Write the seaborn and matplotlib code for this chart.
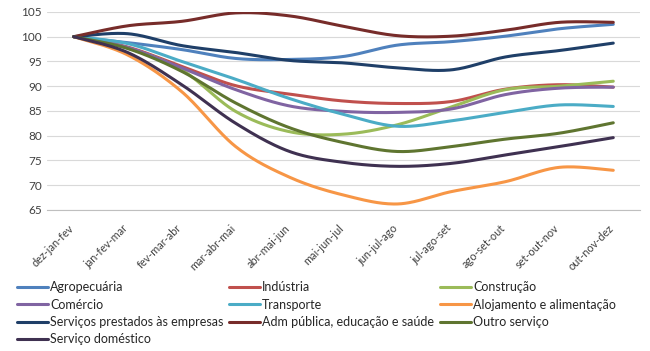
import numpy as np
import pandas as pd
import seaborn as sns
import matplotlib.pyplot as plt
import matplotlib.transforms as mtransforms

periods = ['dez-jan-fev', 'jan-fev-mar', 'fev-mar-abr', 'mar-abr-mai', 'abr-mai-jun',
           'mai-jun-jul', 'jun-jul-ago', 'jul-ago-set', 'ago-set-out', 'set-out-nov', 'out-nov-dez']

agropecuaria = [100, 98.8, 97.4, 95.6, 95.4, 96.0, 98.3, 99.0, 100.1, 101.6, 102.5]
industria = [100, 97.9, 94.0, 90.1, 88.4, 87.0, 86.5, 86.9, 89.4, 90.3, 89.8]
construcao = [100, 97.7, 93.3, 84.9, 80.8, 80.3, 82.2, 85.8, 89.3, 90.0, 91.0]
comercio = [100, 97.8, 93.7, 89.3, 86.0, 84.9, 84.7, 85.4, 88.3, 89.6, 89.8]
transporte = [100, 98.6, 95.0, 91.4, 87.5, 84.3, 81.9, 83.0, 84.7, 86.2, 85.9]
alojamento = [100, 96.3, 88.9, 77.8, 71.6, 68.0, 66.2, 68.7, 70.7, 73.6, 73.0]
servicos_empresas = [100, 100.6, 98.2, 96.8, 95.2, 94.7, 93.7, 93.3, 95.9, 97.2, 98.7]
adm_publica = [100, 102.2, 103.1, 104.8, 104.2, 102.1, 100.2, 100.1, 101.3, 102.9, 102.9]
outro_servico = [100, 97.6, 93.0, 86.6, 81.6, 78.6, 76.8, 77.8, 79.3, 80.5, 82.6]
servico_domestico = [100, 96.8, 90.3, 82.5, 76.8, 74.6, 73.8, 74.4, 76.1, 77.8, 79.6]

series = {
    'Agropecuária': agropecuaria,
    'Indústria': industria,
    'Construção': construcao,
    'Comércio': comercio,
    'Transporte': transporte,
    'Alojamento e alimentação': alojamento,
    'Serviços prestados às empresas': servicos_empresas,
    'Adm pública, educação e saúde': adm_publica,
    'Outro serviço': outro_servico,
    'Serviço doméstico': servico_domestico,
}
colors = ['#4F81BD', '#C0504D', '#9BBB59', '#8064A2', '#4BACC6', '#F79646',
          '#1F3F68', '#772C2A', '#5F7530', '#3F3151']


def smooth(y, n=30):
    # excel-like smoothed line: bezier segments with catmull-rom control points
    y = np.asarray(y, dtype=float)
    x = np.arange(len(y), dtype=float)
    xs, ys = [], []
    for i in range(len(y) - 1):
        i0, i3 = max(i - 1, 0), min(i + 2, len(y) - 1)
        p0 = np.array([x[i], y[i]])
        p3 = np.array([x[i + 1], y[i + 1]])
        p1 = p0 + (p3 - np.array([x[i0], y[i0]])) / 6
        p2 = p3 - (np.array([x[i3], y[i3]]) - p0) / 6
        t = np.linspace(0, 1, n)[:, None]
        b = (1 - t) ** 3 * p0 + 3 * (1 - t) ** 2 * t * p1 + 3 * (1 - t) * t ** 2 * p2 + t ** 3 * p3
        xs.append(b[:, 0])
        ys.append(b[:, 1])
    return np.concatenate(xs), np.concatenate(ys)


sns.set_style('white')
plt.rcParams['font.family'] = ['Lato', 'DejaVu Sans']

fig = plt.figure(figsize=(6.5, 3.51), dpi=100)
ax = fig.add_axes([0.072, 0.402, 0.913, 0.564])

for (name, vals), c in zip(series.items(), colors):
    sx, sy = smooth(vals)
    df = pd.DataFrame({'x': sx, 'y': sy})
    sns.lineplot(data=df, x='x', y='y', color=c, lw=2.2, label=name, ax=ax, sort=False)

ax.set_xlim(-0.5, len(periods) - 0.5)
ax.set_ylim(65, 105)
ax.set_yticks(range(65, 106, 5))
ax.set_xticks(range(len(periods)))
ax.set_xticklabels(periods, rotation=45, ha='right', va='top', rotation_mode='anchor')
ax.tick_params(axis='both', labelsize=8.5, labelcolor='#404040', length=0)
ax.tick_params(axis='x', pad=9, labelsize=7.8)
# nudge rotated labels a little to the left, like excel
shift = mtransforms.ScaledTranslation(-4 / 72, 0, fig.dpi_scale_trans)
for lbl in ax.get_xticklabels():
    lbl.set_transform(lbl.get_transform() + shift)
ax.set_xlabel('')
ax.set_ylabel('')
ax.grid(axis='y', color='#D9D9D9', lw=0.8)
for s in ['top', 'right', 'left']:
    ax.spines[s].set_visible(False)
ax.spines['bottom'].set_color('#BFBFBF')

handles, labels = ax.get_legend_handles_labels()
order = [0, 3, 6, 9, 1, 4, 7, 2, 5, 8]
ax.legend([handles[i] for i in order], [labels[i] for i in order], ncol=3,
          loc='upper left', bbox_to_anchor=(-0.0585, -0.335), frameon=False,
          fontsize=9, handlelength=2.5, handletextpad=0.15, columnspacing=0.45,
          labelspacing=0.43, borderaxespad=0)

fig.savefig('out.png', dpi=100)
